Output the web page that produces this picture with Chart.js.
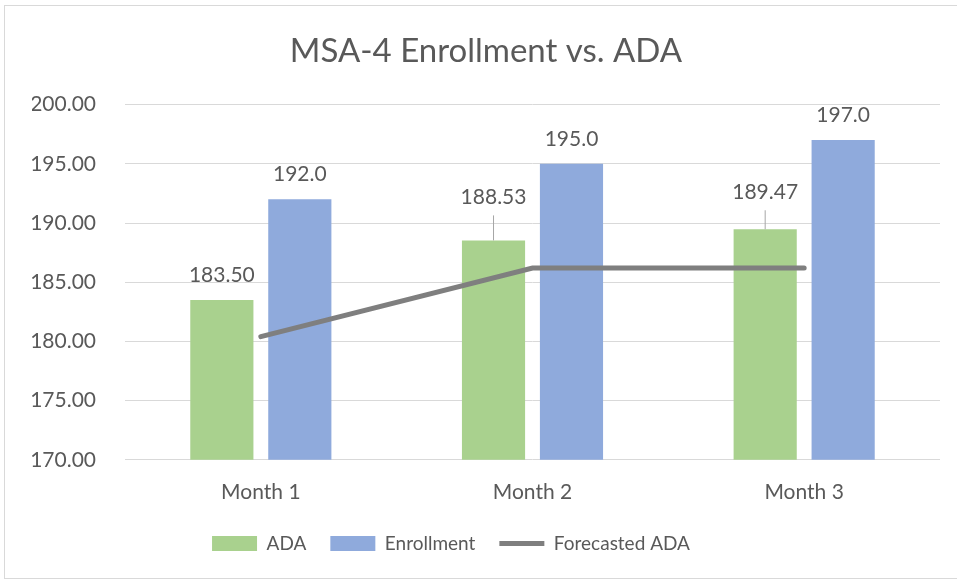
<!DOCTYPE html>
<html>
<head>
<meta charset="utf-8">
<script src="https://cdn.jsdelivr.net/npm/chart.js@4.4.1/dist/chart.umd.min.js"></script>
<style>
  html, body { margin: 0; padding: 0; background: #fff; overflow: hidden; }
  #frame {
    position: absolute; left: 4px; top: 5px;
    width: 972px; height: 572px;
    border: 1px solid #d9d9d9; background: #fff;
  }
</style>
</head>
<body>
<div id="frame"><canvas id="chart" width="972" height="572"></canvas></div>
<script>
const months = ["Month 1", "Month 2", "Month 3"];
const ada = [183.50, 188.53, 189.47];
const enrollment = [192.0, 195.0, 197.0];
const forecastedAda = [180.4, 186.2, 186.2];

const textColor = "#595959";
const fontFamily = "Lato, 'Open Sans', sans-serif";

// labels above the bars, ADA ones nudged up with a leader line like Excel does
const barLabels = {
  id: "barLabels",
  afterDatasetsDraw(chart, args, opts) {
    const ctx = chart.ctx;
    ctx.save();
    ctx.font = "21px " + fontFamily;
    ctx.fillStyle = textColor;
    ctx.textAlign = "center";
    ctx.textBaseline = "middle";
    chart.data.datasets.forEach((ds, di) => {
      if (ds.type !== "bar") return;
      const meta = chart.getDatasetMeta(di);
      meta.data.forEach((bar, i) => {
        const lift = (opts.lift[di] || [])[i] || 0;
        const y = bar.y - 25 - lift;
        ctx.fillText(ds.data[i].toFixed(ds.decimals), bar.x, y);
        if (lift > 0) {
          ctx.strokeStyle = "#a6a6a6";
          ctx.lineWidth = 1;
          ctx.beginPath();
          ctx.moveTo(bar.x, y + 18);
          ctx.lineTo(bar.x, bar.y);
          ctx.stroke();
        }
      });
    });
    ctx.restore();
  }
};

// Excel left the legend a bit left of centre
const legendShift = {
  id: "legendShift",
  beforeDraw(chart, args, opts) {
    chart.legend.right -= opts.px * 2;
  }
};

new Chart(document.getElementById("chart"), {
  data: {
    labels: months,
    datasets: [
      {
        type: "bar",
        label: "ADA",
        data: ada,
        decimals: 2,
        backgroundColor: "#a9d18e",
        categoryPercentage: 0.574,
        barPercentage: 0.81,
        order: 1,
        pointStyle: "rect"
      },
      {
        type: "bar",
        label: "Enrollment",
        data: enrollment,
        decimals: 1,
        backgroundColor: "#8faadc",
        categoryPercentage: 0.574,
        barPercentage: 0.81,
        order: 1,
        pointStyle: "rect"
      },
      {
        type: "line",
        label: "Forecasted ADA",
        data: forecastedAda,
        borderColor: "#7f7f7f",
        backgroundColor: "#7f7f7f",
        borderWidth: 5,
        borderCapStyle: "round",
        pointRadius: 0,
        tension: 0,
        order: 0,
        pointStyle: "line"
      }
    ]
  },
  options: {
    responsive: false,
    animation: false,
    layout: { padding: { left: 27, right: 37, top: 10, bottom: 15 } },
    plugins: {
      title: {
        display: true,
        text: "MSA-4 Enrollment vs. ADA",
        color: textColor,
        font: { family: fontFamily, size: 33, weight: "normal" },
        padding: { top: 16, bottom: 33 }
      },
      legend: {
        position: "bottom",
        labels: {
          color: textColor,
          font: { family: fontFamily, size: 19 },
          usePointStyle: true,
          pointStyleWidth: 45,
          boxHeight: 15,
          padding: 24,
          sort: (a, b) => a.datasetIndex - b.datasetIndex
        }
      },
      tooltip: { enabled: false },
      barLabels: { lift: [[0, 18, 12]] },
      legendShift: { px: 35 }
    },
    scales: {
      x: {
        grid: { display: false },
        border: { display: false },
        ticks: { color: textColor, font: { family: fontFamily, size: 21 }, padding: 12 },
        afterFit(axis) { axis.height -= 7; }
      },
      y: {
        min: 170,
        max: 200,
        afterFit(axis) { axis.width = 93; },
        ticks: {
          stepSize: 5,
          color: textColor,
          font: { family: fontFamily, size: 21 },
          padding: 29,
          callback: v => v.toFixed(2)
        },
        grid: { color: "#d9d9d9", lineWidth: 1, drawTicks: false },
        border: { display: false }
      }
    }
  },
  plugins: [barLabels, legendShift]
});
</script>
</body>
</html>
